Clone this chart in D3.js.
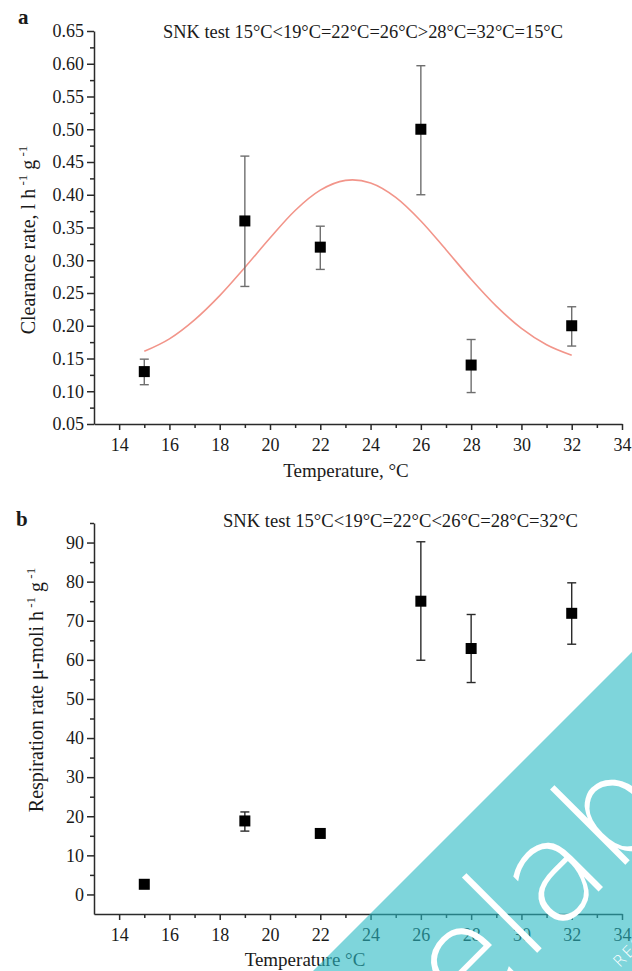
<!DOCTYPE html>
<html>
<head>
<meta charset="utf-8">
<script src="https://cdn.jsdelivr.net/npm/d3@7"></script>
<style>
  body { margin: 0; background: #fff; }
  svg { display: block; }
  text { font-family: "Liberation Serif", "Times New Roman", serif; fill: #1a1a1a; }
</style>
</head>
<body>
<div id="chart"></div>
<script>
// temperatures (x) shared by both panels
const temps = [15, 19, 22, 26, 28, 32];

// panel a: clearance rate, mean and error bar ends
const clearance = [0.13, 0.36, 0.32, 0.50, 0.14, 0.20];
const clearanceLow = [0.110, 0.260, 0.286, 0.400, 0.098, 0.169];
const clearanceHigh = [0.149, 0.459, 0.352, 0.597, 0.179, 0.229];

// fitted curve
const fitTemps = [15, 16, 17, 18, 19, 20, 21, 22, 23, 24, 25, 26, 27, 28, 29, 30, 31, 32];
const fitClearance = [0.161, 0.180, 0.209, 0.246, 0.289, 0.334, 0.376, 0.407, 0.422, 0.418, 0.396, 0.360, 0.316, 0.271, 0.230, 0.196, 0.171, 0.155];

// panel b: respiration rate
const respiration = [2.6, 18.8, 15.6, 75.0, 62.9, 71.9];
const respirationLow = [2.6, 16.2, 14.9, 59.9, 54.2, 64.0];
const respirationHigh = [2.6, 21.1, 16.3, 90.2, 71.6, 79.7];

// tick values
const xMajor = [14, 16, 18, 20, 22, 24, 26, 28, 30, 32, 34];
const xMinor = [15, 17, 19, 21, 23, 25, 27, 29, 31, 33];
const yAMajor = [0.05, 0.10, 0.15, 0.20, 0.25, 0.30, 0.35, 0.40, 0.45, 0.50, 0.55, 0.60, 0.65];
const yAMinor = [0.075, 0.125, 0.175, 0.225, 0.275, 0.325, 0.375, 0.425, 0.475, 0.525, 0.575, 0.625];
const yBMajor = [0, 10, 20, 30, 40, 50, 60, 70, 80, 90];
const yBMinor = [5, 15, 25, 35, 45, 55, 65, 75, 85, 95];

const width = 632;
const height = 971;
const serif = "'Liberation Serif', 'Times New Roman', serif";

const svg = d3.select("#chart")
  .append("svg")
  .attr("width", width)
  .attr("height", height);

const x = d3.scaleLinear().domain([13, 34]).range([94, 622]);
const yA = d3.scaleLinear().domain([0.05, 0.65]).range([424, 31]);
const yB = d3.scaleLinear().domain([-5, 95]).range([914, 523]);

function styleAxis(sel) {
  sel.attr("font-family", serif).attr("font-size", 18);
  sel.selectAll("path, line").attr("stroke", "#2a2a2a").attr("stroke-width", 1.5);
  sel.selectAll("text")
    .attr("font-family", serif)
    .style("font-family", serif)
    .style("font-size", "18px")
    .style("fill", "#1a1a1a");
}

function drawAxes(y, yMajor, yMinor, fmt) {
  const y0 = y.range()[0];
  svg.append("g")
    .attr("transform", `translate(0,${y0})`)
    .call(d3.axisBottom(x).tickValues(xMinor).tickSize(4).tickFormat(""))
    .call(g => g.select(".domain").remove())
    .call(styleAxis);
  svg.append("g")
    .attr("transform", `translate(0,${y0})`)
    .call(d3.axisBottom(x).tickValues(xMajor).tickSize(6).tickSizeOuter(0).tickPadding(8).tickFormat(d3.format("d")))
    .call(styleAxis);
  svg.append("g")
    .attr("transform", `translate(${x.range()[0]},0)`)
    .call(d3.axisLeft(y).tickValues(yMinor).tickSize(4).tickFormat(""))
    .call(g => g.select(".domain").remove())
    .call(styleAxis);
  svg.append("g")
    .attr("transform", `translate(${x.range()[0]},0)`)
    .call(d3.axisLeft(y).tickValues(yMajor).tickSize(7).tickSizeOuter(0).tickPadding(3).tickFormat(fmt))
    .call(styleAxis);
}

function drawPoints(y, values, low, high, barColor) {
  const g = svg.append("g");
  const rows = temps.map((t, i) => ({ t, v: values[i], lo: low[i], hi: high[i] }));
  g.selectAll("line.bar").data(rows).enter().append("line")
    .attr("x1", d => x(d.t)).attr("x2", d => x(d.t))
    .attr("y1", d => y(d.lo)).attr("y2", d => y(d.hi))
    .attr("stroke", barColor).attr("stroke-width", 1.4);
  ["lo", "hi"].forEach(k => {
    g.selectAll("line.cap" + k).data(rows).enter().append("line")
      .attr("x1", d => x(d.t) - 4.5).attr("x2", d => x(d.t) + 4.5)
      .attr("y1", d => y(d[k])).attr("y2", d => y(d[k]))
      .attr("stroke", barColor).attr("stroke-width", 1.4);
  });
  g.selectAll("rect").data(rows).enter().append("rect")
    .attr("x", d => x(d.t) - 5.5).attr("y", d => y(d.v) - 5.5)
    .attr("width", 11).attr("height", 11)
    .attr("fill", "#000");
}

// ---- panel a ----
drawAxes(yA, yAMajor, yAMinor, d3.format(".2f"));

svg.append("path")
  .datum(fitTemps.map((t, i) => [t, fitClearance[i]]))
  .attr("fill", "none")
  .attr("stroke", "#f2958a")
  .attr("stroke-width", 1.6)
  .attr("d", d3.line().x(d => x(d[0])).y(d => yA(d[1])).curve(d3.curveCardinal));

drawPoints(yA, clearance, clearanceLow, clearanceHigh, "#6e6e6e");

svg.append("text").attr("x", 18).attr("y", 24)
  .attr("font-size", "21px").attr("font-weight", "bold").text("a");
svg.append("text").attr("x", 163).attr("y", 38)
  .attr("font-size", "18px")
  .attr("textLength", 400).attr("lengthAdjust", "spacingAndGlyphs")
  .text("SNK test  15°C<19°C=22°C=26°C>28°C=32°C=15°C");

const labA = svg.append("text")
  .attr("transform", "translate(35,240) rotate(-90)")
  .attr("text-anchor", "middle")
  .attr("font-size", "20px");
labA.append("tspan").text("Clearance rate, l h");
labA.append("tspan").attr("font-size", "13px").attr("dy", -8).text(" -1");
labA.append("tspan").attr("dy", 8).text(" g");
labA.append("tspan").attr("font-size", "13px").attr("dy", -8).text(" -1");

svg.append("text").attr("x", 346).attr("y", 477)
  .attr("text-anchor", "middle").attr("font-size", "19px")
  .text("Temperature, °C");

// ---- panel b ----
drawAxes(yB, yBMajor, yBMinor, d3.format("d"));
drawPoints(yB, respiration, respirationLow, respirationHigh, "#2a2a2a");

svg.append("text").attr("x", 16).attr("y", 526)
  .attr("font-size", "21px").attr("font-weight", "bold").text("b");
svg.append("text").attr("x", 223).attr("y", 527)
  .attr("font-size", "18px")
  .attr("textLength", 355).attr("lengthAdjust", "spacingAndGlyphs")
  .text("SNK test  15°C<19°C=22°C<26°C=28°C=32°C");

const labB = svg.append("text")
  .attr("transform", "translate(43,690) rotate(-90)")
  .attr("text-anchor", "middle")
  .attr("font-size", "20px");
labB.append("tspan").text("Respiration rate μ-moli h");
labB.append("tspan").attr("font-size", "13px").attr("dy", -8).text(" -1");
labB.append("tspan").attr("dy", 8).text(" g");
labB.append("tspan").attr("font-size", "13px").attr("dy", -8).text(" -1");

svg.append("text").attr("x", 305).attr("y", 966)
  .attr("text-anchor", "middle").attr("font-size", "19px")
  .text("Temperature °C");

// ---- watermark overlay ----
const wm = svg.append("g");
const corner = [[632, 652], [313, 971], [632, 971]];
svg.append("clipPath").attr("id", "wmclip")
  .append("polygon").attr("points", corner.map(p => p.join(",")).join(" "));
wm.append("polygon")
  .attr("points", corner.map(p => p.join(",")).join(" "))
  .attr("fill", "rgb(40,185,195)")
  .attr("fill-opacity", 0.6);
const wmText = wm.append("g").attr("clip-path", "url(#wmclip)");
wmText.append("text")
  .attr("transform", "translate(465,1025) rotate(-45)")
  .style("font-family", "'DejaVu Sans', sans-serif")
  .style("font-weight", 200)
  .style("font-size", "140px")
  .style("fill", "#fff")
  .text("elab");
wmText.append("text")
  .attr("transform", "translate(588,1000) rotate(-45)")
  .style("font-family", "'DejaVu Sans', sans-serif")
  .style("font-weight", 200)
  .style("font-size", "16px")
  .attr("letter-spacing", "2px")
  .style("fill", "#fff")
  .text("NAL RESEARCH");
</script>
</body>
</html>
